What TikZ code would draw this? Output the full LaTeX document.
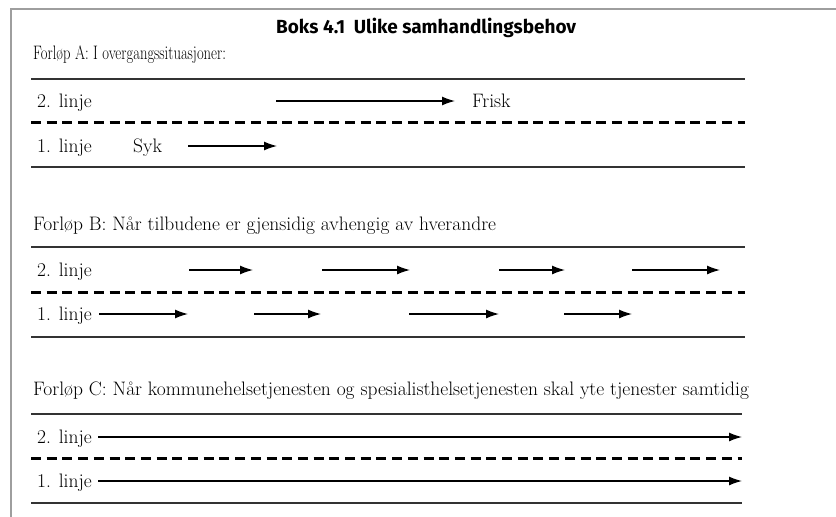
\documentclass[tikz,border=0pt]{standalone}
\usepackage{fontspec}
\usepackage{graphicx}
\newfontfamily\titlefont{Fira Sans}
\usetikzlibrary{arrows.meta}
\begin{document}
\begin{tikzpicture}[x=1pt,y=-1pt,
  txt/.style={font=\fontsize{19.5}{22}\selectfont, inner sep=0pt, anchor=base west},
  ttl/.style={font=\titlefont\bfseries\fontsize{16}{19}\selectfont, inner sep=0pt, anchor=base west},
  solidline/.style={line width=1.5pt, draw=black!80},
  dashline/.style={line width=3pt, dash pattern=on 10pt off 5.7pt},
  arr/.style={line width=1.3pt, -{Latex[length=13pt,width=9pt]}},
  framel/.style={line width=2pt, draw=black!38}]
\useasboundingbox (0,0) rectangle (836,517);
\draw[framel] (11,517) |- (836,9);
\node[ttl] (title) at (276,33) {\resizebox{300pt}{!}{Boks 4.1\hspace{0.45em}Ulike samhandlingsbehov}};
% Section A
\node[txt] (fa) at (33,59) {\scalebox{0.75}[1]{Forløp A: I overgangssituasjoner:}};
\draw[solidline] (31,79) -- (745,79);
\node[txt] (a2) at (37,107.3) {2. linje};
\coordinate (a2s) at (276,101); \coordinate (a2e) at (455,101);
\draw[arr] (a2s) -- (a2e);
\node[txt] (frisk) at (472,107.3) {Frisk};
\draw[dashline] (31,122) -- (745,122);
\node[txt] (a1) at (37,152.3) {1. linje};
\node[txt] (syk) at (133,152.3) {Syk};
\coordinate (a1s) at (188,146); \coordinate (a1e) at (277,146);
\draw[arr] (a1s) -- (a1e);
\draw[solidline] (31,167) -- (745,167);
% Section B
\node[txt] (fb) at (33,230) {Forløp B: Når tilbudene er gjensidig avhengig av hverandre};
\draw[solidline] (31,247) -- (745,247);
\node[txt] (b2) at (37,276.3) {2. linje};
\foreach \s/\e [count=\i] in {189/253,322/410,499/565,632/720}
  {\coordinate (b2s\i) at (\s,270); \coordinate (b2e\i) at (\e,270);
   \draw[arr] (b2s\i) -- (b2e\i);}
\draw[dashline] (31,292) -- (745,292);
\node[txt] (b1) at (37,320.3) {1. linje};
\foreach \s/\e [count=\i] in {99/188,254/321,409/499,564/632}
  {\coordinate (b1s\i) at (\s,314); \coordinate (b1e\i) at (\e,314);
   \draw[arr] (b1s\i) -- (b1e\i);}
\draw[solidline] (31,337) -- (745,337);
% Section C
\node[txt] (fc) at (33,395) {Forløp C: Når kommunehelsetjenesten og spesialisthelsetjenesten skal yte tjenester samtidig};
\draw[solidline] (31,414) -- (742,414);
\node[txt] (c2) at (37,443.3) {2. linje};
\coordinate (c2s) at (98,437); \coordinate (c2e) at (742,437);
\draw[arr] (c2s) -- (c2e);
\draw[dashline] (31,458) -- (742,458);
\node[txt] (c1) at (37,487.3) {1. linje};
\coordinate (c1s) at (98,481); \coordinate (c1e) at (742,481);
\draw[arr] (c1s) -- (c1e);
\draw[solidline] (31,503) -- (742,503);
\end{tikzpicture}
\end{document}
